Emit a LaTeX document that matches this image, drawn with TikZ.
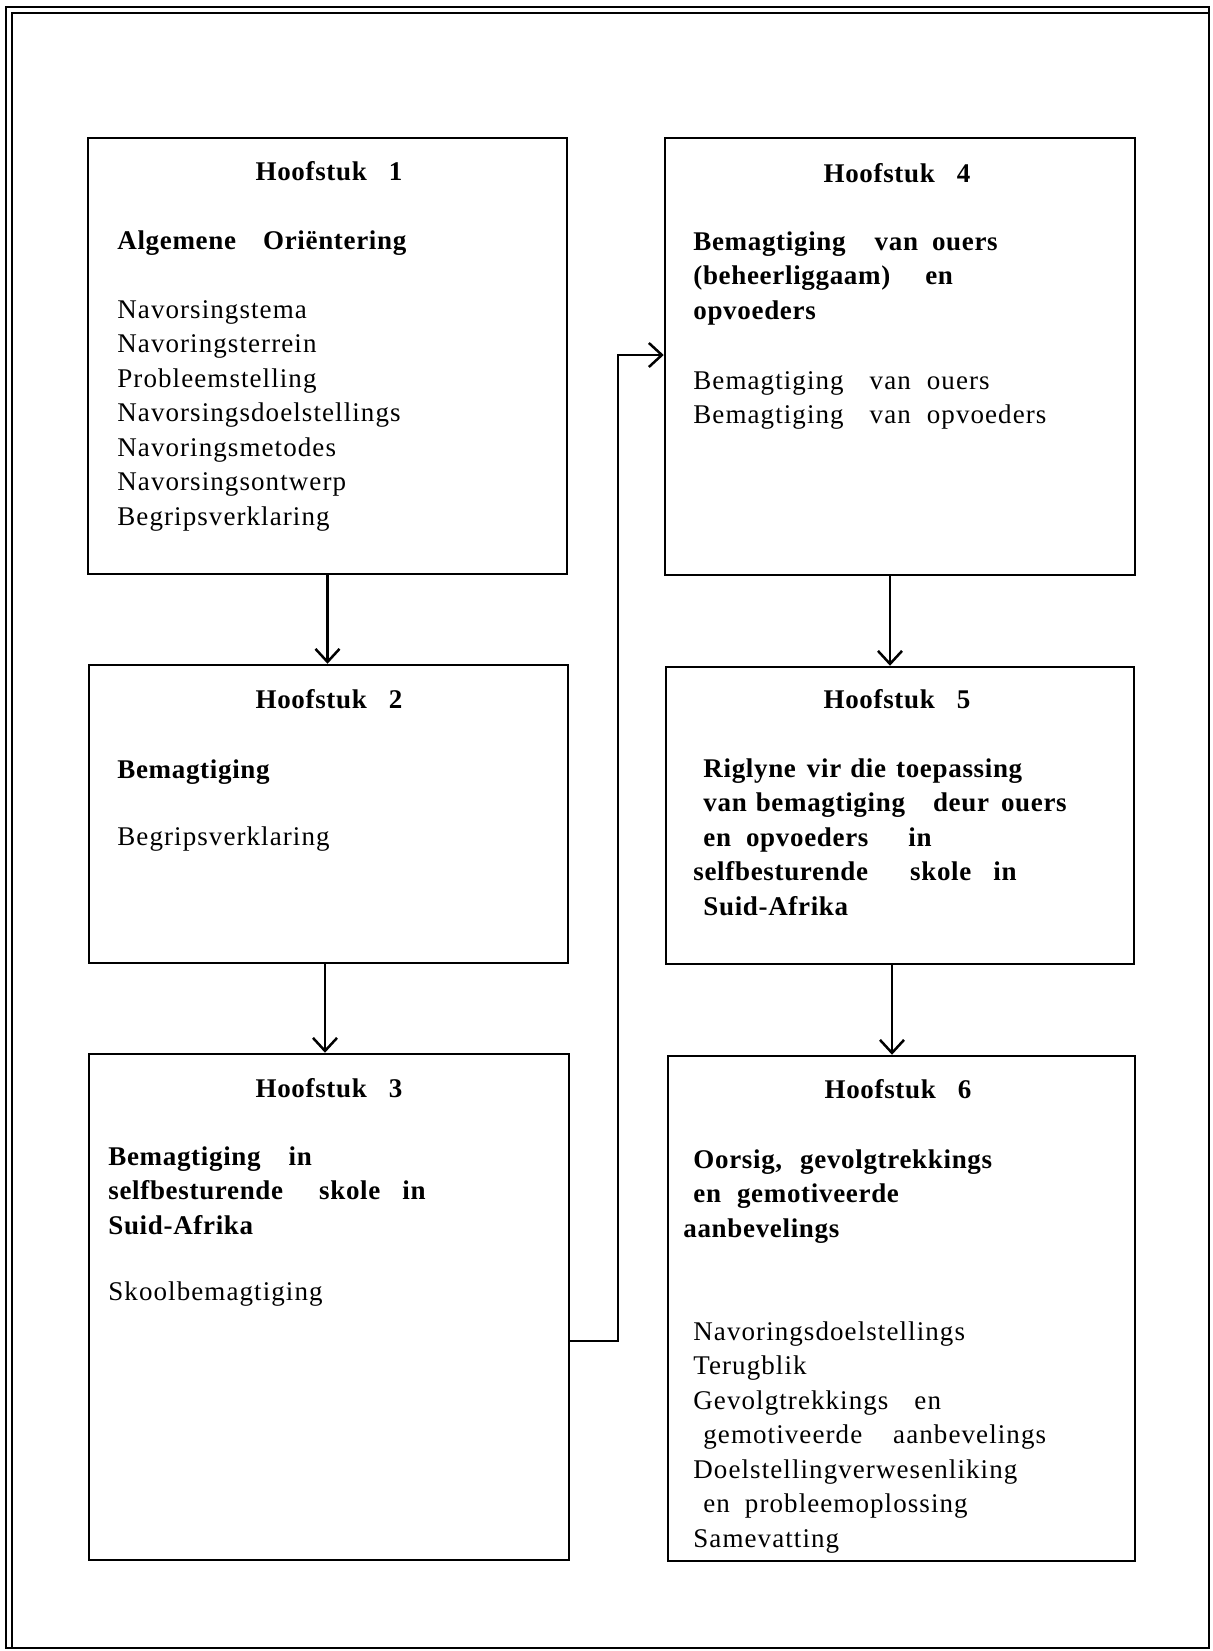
\documentclass[tikz,border=0pt]{standalone}
\usepackage{fontspec}
\setmainfont{Liberation Serif}[LetterSpace=4,BoldFeatures={LetterSpace=2.5}]
\usetikzlibrary{arrows.meta}
\begin{document}
\begin{tikzpicture}[x=0.5pt,y=-0.5pt,
  every node/.style={font=\fontsize{13.5pt}{17.25pt}\selectfont, inner sep=0pt},
  box/.style={draw, line width=1.25pt, inner sep=0pt},
  head/.style={anchor=base, font=\fontsize{13.5pt}{17.25pt}\selectfont\bfseries},
  title/.style={anchor=base west, align=left, text width=230pt, font=\fontsize{13.5pt}{17.25pt}\selectfont\bfseries},
  list/.style={anchor=base west, align=left, text width=230pt},
  conn/.style={line width=1.25pt, -{Straight Barb[length=6.5pt,width=12pt,line width=1.25pt]}},
  frame/.style={line width=1.1pt}]
\useasboundingbox (0,0) rectangle (1213,1651);
\fill[white] (0,0) rectangle (1213,1651);
% outer frame
\draw[frame] (1209,7) -- (6,7) -- (6,1648) -- (1209,1648) -- cycle;
\draw[frame] (1209,13) -- (12,13) -- (12,1648);
% boxes
\node[box, minimum width=239.5pt, minimum height=218pt] (b1) at (327.5,356) {};
\node[box, minimum width=239.5pt, minimum height=149pt] (b2) at (328.5,814) {};
\node[box, minimum width=240pt, minimum height=253pt] (b3) at (329,1307) {};
\node[box, minimum width=235pt, minimum height=218.5pt] (b4) at (900,356.5) {};
\node[box, minimum width=234pt, minimum height=148.5pt] (b5) at (900,815.5) {};
\node[box, minimum width=233.5pt, minimum height=252.5pt] (b6) at (901.5,1308.5) {};
% box 1
\node[head] (h1) at (329,180) {Hoofstuk\hspace{11pt}1};
\node[title] (t1) at (117,249) {Algemene\hspace{13.5pt}Oriëntering};
\node[list] (l1) at (117,318) {Navorsingstema\\Navoringsterrein\\Probleemstelling\\Navorsingsdoelstellings\\Navoringsmetodes\\Navorsingsontwerp\\Begripsverklaring};
% box 2
\node[head] (h2) at (329,708) {Hoofstuk\hspace{11pt}2};
\node[title] (t2) at (117,778) {Bemagtiging};
\node[list] (l2) at (117,845) {Begripsverklaring};
% box 3
\node[head] (h3) at (329,1097) {Hoofstuk\hspace{11pt}3};
\node[title] (t3) at (108,1165) {Bemagtiging\hspace{14pt}in\\selfbesturende\hspace{18pt}skole\hspace{11pt}in\\Suid-Afrika};
\node[list] (l3) at (108,1300) {Skoolbemagtiging};
% box 4
\node[head] (h4) at (897,182) {Hoofstuk\hspace{11pt}4};
\node[title] (t4) at (693,250) {Bemagtiging\hspace{14.5pt}van\hspace{7pt}ouers\\(beheerliggaam)\hspace{17.5pt}en\\opvoeders};
\node[list] (l4) at (693,389) {Bemagtiging\hspace{13pt}van\hspace{8pt}ouers\\Bemagtiging\hspace{13pt}van\hspace{8pt}opvoeders};
% box 5
\node[head] (h5) at (897,708) {Hoofstuk\hspace{11pt}5};
\node[title] (t5) at (693,777) {\hspace*{5pt}Riglyne\hspace{5.5pt}vir die\hspace{5pt}toepassing\\\hspace*{5pt}van bemagtiging\hspace{14pt}deur\hspace{6pt}ouers\\\hspace*{5pt}en\hspace{7.5pt}opvoeders\hspace{20pt}in\\selfbesturende\hspace{21pt}skole\hspace{11pt}in\\\hspace*{5pt}Suid-Afrika};
% box 6
\node[head] (h6) at (898,1098) {Hoofstuk\hspace{11pt}6};
\node[title] (t6) at (683,1168) {\hspace*{5pt}Oorsig,\hspace{9pt}gevolgtrekkings\\\hspace*{5pt}en\hspace{8pt}gemotiveerde\\aanbevelings};
\node[list] (l6) at (693,1340) {Navoringsdoelstellings\\Terugblik\\Gevolgtrekkings\hspace{13pt}en\\\hspace*{5pt}gemotiveerde\hspace{15.5pt}aanbevelings\\Doelstellingverwesenliking\\\hspace*{5pt}en\hspace{7.5pt}probleemoplossing\\Samevatting};
% connectors
\draw[conn] (b1.south) -- (b1.south |- b2.north);
\draw[conn] ([xshift=-1.75pt]b2.south) -- ([xshift=-1.75pt]b2.south |- b3.north);
\draw[conn] ([xshift=-5pt]b4.south) -- ([xshift=-5pt]b4.south |- b5.north);
\draw[conn] ([xshift=-4pt]b5.south) -- ([xshift=-4pt]b5.south |- b6.north);
\coordinate (c1) at (618,1341);
\coordinate (c2) at (618,355);
\draw[conn] (b3.east |- c1) -- (c1) -- (c2) -- (c2 -| b4.west);
\end{tikzpicture}
\end{document}
